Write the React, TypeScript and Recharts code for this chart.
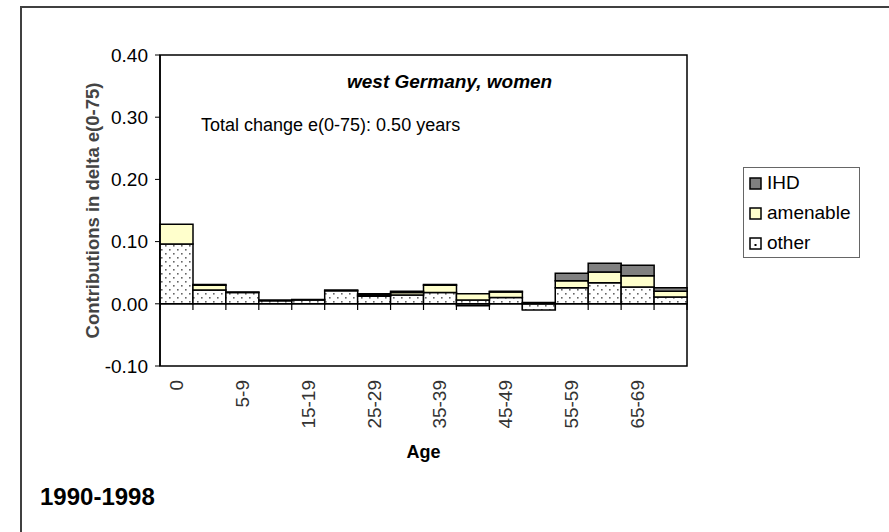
import { Bar, BarChart, Legend, ReferenceArea, ReferenceLine, XAxis, YAxis } from 'recharts';

const ageGroups = [
  '0', '1-4', '5-9', '10-14', '15-19', '20-24', '25-29', '30-34',
  '35-39', '40-44', '45-49', '50-54', '55-59', '60-64', '65-69', '70-74',
];
const otherValues = [
  0.096, 0.022, 0.018, 0.005, 0.006, 0.021, 0.012, 0.014,
  0.018, 0.006, 0.010, -0.010, 0.026, 0.034, 0.027, 0.011,
];
const amenableValues = [
  0.032, 0.008, 0.001, 0.001, 0.001, 0.001, 0.002, 0.004,
  0.012, 0.010, 0.009, 0.001, 0.011, 0.017, 0.018, 0.009,
];
const ihdValues = [
  0.0, 0.001, 0.0, 0.0, 0.0, 0.0, 0.002, 0.002,
  0.001, -0.003, 0.001, 0.001, 0.012, 0.014, 0.017, 0.006,
];
const yTicks = [-0.1, 0, 0.1, 0.2, 0.3, 0.4];
// length of the small category tick marks hanging below the zero line
const zeroTickLength = -0.01;

const data = ageGroups.map((age, i) => ({
  age,
  other: otherValues[i],
  amenable: amenableValues[i],
  ihd: ihdValues[i],
  tick: zeroTickLength,
}));

const FONT = '"Liberation Sans", Arial, sans-serif';
const IHD_GRAY = '#808080';
const AMENABLE_YELLOW = '#FFFFCC';

const legendItems = [
  { key: 'ihd', label: 'IHD', fill: IHD_GRAY },
  { key: 'amenable', label: 'amenable', fill: AMENABLE_YELLOW },
  { key: 'other', label: 'other', fill: '#fff' },
];

function AgeTick({ x, y, payload }: any) {
  const ty = y + 14;
  return (
    <text
      x={x}
      y={ty}
      transform={`rotate(-90 ${x} ${ty})`}
      textAnchor="end"
      dominantBaseline="central"
      fontSize={19}
      fontFamily={FONT}
      fill="#333"
    >
      {payload.value}
    </text>
  );
}

// draws the tick marks at the category edges along the zero line
function ZeroTick(props: any) {
  const { x, y, width, height, index } = props;
  if (x == null || y == null) return <g />;
  const top = Math.min(y, y + height);
  const bottom = Math.max(y, y + height);
  const last = index === ageGroups.length - 1;
  return (
    <g>
      <line x1={x} x2={x} y1={top} y2={bottom} stroke="#000" strokeWidth={1.2} />
      {last ? <line x1={x + width} x2={x + width} y1={top} y2={bottom} stroke="#000" strokeWidth={1.2} /> : null}
    </g>
  );
}

function LegendBox() {
  return (
    <div
      style={{
        width: 117,
        height: 91,
        boxSizing: 'border-box',
        border: '1px solid #666',
        background: '#fff',
        position: 'relative',
        fontFamily: FONT,
        fontSize: 19,
      }}
    >
      {legendItems.map((item, i) => (
        <div
          key={item.key}
          style={{ position: 'absolute', left: 5, top: 4 + i * 30, height: 22, display: 'flex', alignItems: 'center' }}
        >
          <svg width={13} height={13} style={{ marginRight: 5 }}>
            <rect x={1} y={1} width={11} height={11} fill={item.fill} stroke="#000" strokeWidth={1.5} />
            {item.key === 'other' ? <rect x={5.5} y={7} width={2} height={2} fill="#000" /> : null}
          </svg>
          <span style={{ lineHeight: '22px', color: '#000' }}>{item.label}</span>
        </div>
      ))}
    </div>
  );
}

export default function App() {
  return (
    <div style={{ position: 'absolute', left: 0, top: 0, width: 889, height: 532, background: '#fff', overflow: 'hidden' }}>
      <div
        style={{
          position: 'absolute',
          left: 20,
          top: 6,
          width: 900,
          height: 560,
          borderTop: '2px solid #404040',
          borderLeft: '2px solid #404040',
        }}
      />
      <div style={{ position: 'absolute', left: 0, top: 0 }}>
        <BarChart
          width={889}
          height={532}
          data={data}
          margin={{ top: 55, right: 202, left: 80, bottom: 74 }}
          barCategoryGap={0}
          stackOffset="sign"
        >
          <defs>
            <pattern id="dots" width={8} height={8} patternUnits="userSpaceOnUse">
              <rect width={8} height={8} fill="#fff" />
              <rect x={1} y={1} width={1.6} height={1.6} fill="#666" />
              <rect x={5} y={5} width={1.6} height={1.6} fill="#666" />
            </pattern>
          </defs>
          <XAxis
            dataKey="age"
            interval={1}
            axisLine={false}
            tickLine={false}
            tickSize={0}
            tickMargin={0}
            height={92}
            tick={<AgeTick />}
            label={{
              value: 'Age',
              position: 'insideBottom',
              offset: 0,
              style: { fontFamily: FONT, fontSize: 18, fontWeight: 'bold', fill: '#000' },
            }}
          />
          <XAxis xAxisId="zeroTicks" dataKey="age" hide />
          <YAxis
            width={80}
            domain={[-0.1, 0.4]}
            ticks={yTicks}
            tickFormatter={(v: number) => v.toFixed(2)}
            axisLine={{ stroke: '#000', strokeWidth: 1.5 }}
            tickLine={{ stroke: '#000', strokeWidth: 1 }}
            tickSize={5}
            tickMargin={7}
            tick={{ fontFamily: FONT, fontSize: 19, fill: '#000' }}
            label={{
              value: 'Contributions in delta e(0-75)',
              angle: -90,
              position: 'insideLeft',
              offset: 12,
              style: { fontFamily: FONT, fontSize: 18.5, fontWeight: 'bold', fill: '#444', textAnchor: 'middle' },
            }}
          />
          <ReferenceArea y1={-0.1} y2={0.4} fill="none" stroke="#000" strokeWidth={1.5} />
          <Bar dataKey="other" name="other" stackId="a" fill="url(#dots)" stroke="#000" strokeWidth={1.5} isAnimationActive={false} />
          <Bar dataKey="amenable" name="amenable" stackId="a" fill={AMENABLE_YELLOW} stroke="#000" strokeWidth={1.5} isAnimationActive={false} />
          <Bar dataKey="ihd" name="IHD" stackId="a" fill={IHD_GRAY} stroke="#000" strokeWidth={1.5} isAnimationActive={false} />
          <Bar
            dataKey="tick"
            xAxisId="zeroTicks"
            legendType="none"
            shape={<ZeroTick />}
            isAnimationActive={false}
          />
          <ReferenceLine y={0} stroke="#000" strokeWidth={1.5} />
          <Legend
            layout="vertical"
            align="center"
            verticalAlign="middle"
            wrapperStyle={{ left: 743, top: 167, width: 117, height: 91 }}
            content={() => <LegendBox />}
          />
        </BarChart>
      </div>
      <div
        style={{
          position: 'absolute',
          left: 347,
          top: 71,
          fontFamily: FONT,
          fontSize: 19,
          fontWeight: 'bold',
          fontStyle: 'italic',
          lineHeight: '22px',
          whiteSpace: 'nowrap',
        }}
      >
        west Germany, women
      </div>
      <div
        style={{
          position: 'absolute',
          left: 201,
          top: 114,
          fontFamily: FONT,
          fontSize: 18,
          lineHeight: '22px',
          whiteSpace: 'nowrap',
        }}
      >
        Total change e(0-75): 0.50 years
      </div>
      <div
        style={{
          position: 'absolute',
          left: 40,
          top: 483,
          fontFamily: FONT,
          fontSize: 24,
          fontWeight: 'bold',
          lineHeight: '28px',
          whiteSpace: 'nowrap',
        }}
      >
        1990-1998
      </div>
    </div>
  );
}
